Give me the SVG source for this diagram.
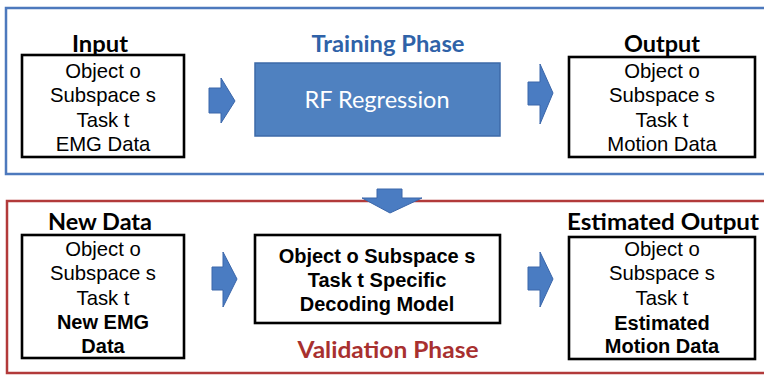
<svg xmlns="http://www.w3.org/2000/svg" width="764" height="376" viewBox="0 0 764 376">
<style>
.panelT{fill:none;stroke:#4d79bd;stroke-width:2.5}
.panelV{fill:none;stroke:#b23a3a;stroke-width:2.5}
.box{fill:#fff;stroke:#000;stroke-width:2.6}
.arr{fill:#4a7cc2;stroke:#3a66aa;stroke-width:1}
.lbl{font-family:Lato,"Liberation Sans",sans-serif;font-weight:bold;font-size:23px;fill:#000;text-anchor:middle}
.body{font-family:"Liberation Sans",Arial,sans-serif;font-size:20.3px;fill:#000;text-anchor:middle}
.b{font-weight:bold;font-size:20px}
.phaseT{font-family:Lato,"Liberation Sans",sans-serif;font-weight:bold;font-size:22px;fill:#2f62a8;text-anchor:middle}
.phaseV{font-family:Lato,"Liberation Sans",sans-serif;font-weight:bold;font-size:22px;fill:#a8302f;text-anchor:middle}
.rf{font-family:Lato,"Open Sans",sans-serif;font-size:23px;fill:#fff;text-anchor:middle}
</style>
<rect width="764" height="376" fill="#fff"/>
<g id="training-panel">
<rect class="panelT" x="6" y="8" width="800" height="166"/>
<text class="phaseT" x="388" y="52" textLength="153" lengthAdjust="spacingAndGlyphs">Training Phase</text>
</g>
<g id="validation-panel">
<rect class="panelV" x="7" y="201" width="800" height="172"/>
<text class="phaseV" x="388" y="358" textLength="181" lengthAdjust="spacingAndGlyphs">Validation Phase</text>
</g>
<g id="input">
<text class="lbl" x="100" y="52" textLength="56" lengthAdjust="spacingAndGlyphs">Input</text>
<rect class="box" x="22" y="55" width="162" height="102"/>
<text class="body" x="103" y="78">Object o</text>
<text class="body" x="103" y="102">Subspace s</text>
<text class="body" x="103" y="127">Task t</text>
<text class="body" x="103" y="151">EMG Data</text>
</g>
<g id="rf-regression">
<rect x="255" y="63" width="245" height="73" fill="#4f81c0" stroke="#3d6aa8" stroke-width="1.5"/>
<text class="rf" x="377" y="108" textLength="145" lengthAdjust="spacingAndGlyphs">RF Regression</text>
</g>
<g id="output">
<text class="lbl" x="662" y="52" textLength="76" lengthAdjust="spacingAndGlyphs">Output</text>
<rect class="box" x="569" y="57" width="186" height="100"/>
<text class="body" x="662" y="78">Object o</text>
<text class="body" x="662" y="102">Subspace s</text>
<text class="body" x="662" y="127">Task t</text>
<text class="body" x="662" y="151">Motion Data</text>
</g>
<g id="new-data">
<text class="lbl" x="100" y="230" textLength="104" lengthAdjust="spacingAndGlyphs">New Data</text>
<rect class="box" x="22" y="235" width="162" height="123"/>
<text class="body" x="103" y="256">Object o</text>
<text class="body" x="103" y="280">Subspace s</text>
<text class="body" x="103" y="305">Task t</text>
<text class="body b" x="103" y="329">New EMG</text>
<text class="body b" x="103" y="353">Data</text>
</g>
<g id="decoding-model">
<rect class="box" x="255" y="235" width="245" height="88"/>
<text class="body b" x="377" y="263">Object o Subspace s</text>
<text class="body b" x="377" y="287">Task t Specific</text>
<text class="body b" x="377" y="311">Decoding Model</text>
</g>
<g id="estimated-output">
<text class="lbl" x="663" y="230" textLength="192" lengthAdjust="spacingAndGlyphs">Estimated Output</text>
<rect class="box" x="569" y="237" width="186" height="122"/>
<text class="body" x="662" y="256">Object o</text>
<text class="body" x="662" y="280">Subspace s</text>
<text class="body" x="662" y="305">Task t</text>
<text class="body b" x="662" y="330">Estimated</text>
<text class="body b" x="662" y="353">Motion Data</text>
</g>
<g id="connectors">
<polygon class="arr" points="209,88 221,88 221,78 235,101 221,123 221,113 209,113"/>
<polygon class="arr" points="528,82 540,82 540,64 553,93 540,124 540,105 528,105"/>
<polygon class="arr" points="212,267 223,267 223,252 237,279 223,307 223,290 212,290"/>
<polygon class="arr" points="528,267 540,267 540,252 553,279 540,307 540,290 528,290"/>
<polygon class="arr" points="377,189 402,189 402,198 422,198 390,213 362,198 377,198"/>
</g>
</svg>
